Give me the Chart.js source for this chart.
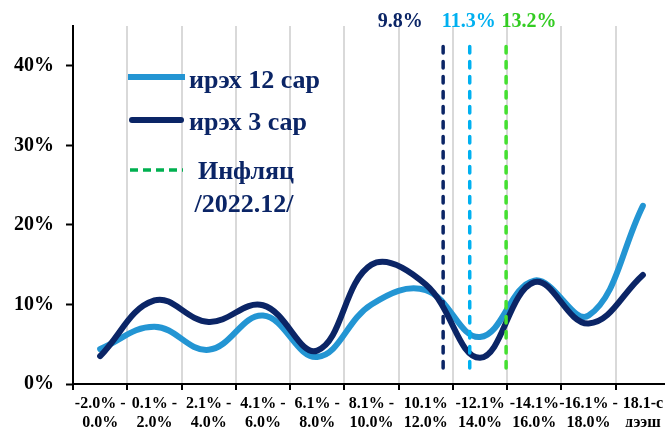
<!DOCTYPE html>
<html>
<head>
<meta charset="utf-8">
<script src="https://cdn.jsdelivr.net/npm/chart.js@4/dist/chart.umd.min.js"></script>
<style>
html,body{margin:0;padding:0;background:#fff;overflow:hidden;}
#wrap{position:relative;width:672px;height:427px;}
</style>
</head>
<body>
<div id="wrap"><canvas id="c"></canvas></div>
<script>
// ---- data ----
const categories = [
  ['-2.0% -','0.0%'], ['0.1% -','2.0%'], ['2.1% -','4.0%'], ['4.1% -','6.0%'],
  ['6.1% -','8.0%'], ['8.1% -','10.0%'], ['10.1%','12.0%'], ['-12.1%','14.0%'],
  ['-14.1%','16.0%'], ['-16.1% -','18.0%'], ['18.1-с','дээш']
];
const next12 = [4.4, 7.2, 4.3, 8.6, 3.4, 10.0, 11.8, 5.9, 13.0, 8.6, 22.4];
const next3  = [3.5, 10.5, 7.8, 9.9, 4.2, 15.0, 12.5, 3.3, 12.8, 7.6, 13.7];
const yTicks = [0, 10, 20, 30, 40];
const inflationLabels = ['9.8%', '11.3%', '13.2%'];
const inflationPos = [6.32, 6.81, 7.48];   // position along category axis (index units)
const inflationSpan = [2.0, 43.0];         // vertical extent (%)
const legendNames = ['ирэх 12 сар', 'ирэх 3 сар', 'Инфляц', '/2022.12/'];

const NAVY = '#0B2566';
const BLUE = '#2395D3';
const vColors = ['#0B2566', '#00B0F0', '#44E030'];
const vLabelColors = ['#0B2566', '#00B0F0', '#33CC22'];
const FONT = "'Liberation Serif', 'Times New Roman', serif";

const vDatasets = inflationPos.map((p, i) => ({
  type: 'line',
  xAxisID: 'x2',
  data: [{x: p, y: inflationSpan[0]}, {x: p, y: inflationSpan[1]}],
  borderColor: vColors[i],
  borderWidth: 3.5,
  borderDash: [6.5, 8.5],
  borderCapStyle: 'round',
  pointRadius: 0,
  tension: 0,
  order: 0
}));

const overlay = {
  id: 'overlay',
  afterDatasetsDraw(chart) {
    const ctx = chart.ctx;
    const x2 = chart.scales.x2;
    const ca = chart.chartArea;
    ctx.save();
    // top labels
    ctx.font = 'bold 20px ' + FONT;
    ctx.textAlign = 'center';
    ctx.textBaseline = 'middle';
    const dx = [-43, -1, 23];
    inflationLabels.forEach((t, i) => {
      ctx.fillStyle = vLabelColors[i];
      ctx.fillText(t, x2.getPixelForValue(inflationPos[i]) + dx[i], 22);
    });
    // legend
    const lx = ca.left;
    ctx.lineCap = 'butt';
    ctx.strokeStyle = BLUE; ctx.lineWidth = 6;
    ctx.beginPath(); ctx.moveTo(lx + 55, 77); ctx.lineTo(lx + 112, 77); ctx.stroke();
    ctx.lineCap = 'round';
    ctx.strokeStyle = NAVY; ctx.lineWidth = 6;
    ctx.beginPath(); ctx.moveTo(lx + 59, 120); ctx.lineTo(lx + 108, 120); ctx.stroke();
    ctx.lineCap = 'butt';
    ctx.strokeStyle = '#00B050'; ctx.lineWidth = 3.5; ctx.setLineDash([8, 5]);
    ctx.beginPath(); ctx.moveTo(lx + 57, 170); ctx.lineTo(lx + 110, 170); ctx.stroke();
    ctx.setLineDash([]);
    ctx.fillStyle = NAVY;
    ctx.font = 'bold 26px ' + FONT;
    ctx.textAlign = 'left';
    ctx.fillText(legendNames[0], lx + 116, 81);
    ctx.fillText(legendNames[1], lx + 116, 123);
    ctx.textAlign = 'center';
    ctx.fillText(legendNames[2], lx + 173, 172);
    ctx.fillText(legendNames[3], lx + 171, 205);
    ctx.restore();
  }
};

new Chart(document.getElementById('c'), {
  data: {
    labels: categories,
    datasets: [
      ...vDatasets,
      {
        type: 'line', label: legendNames[1], data: next3,
        borderColor: NAVY, borderWidth: 6, pointRadius: 0,
        tension: 0.4, borderCapStyle: 'round', order: 1
      },
      {
        type: 'line', label: legendNames[0], data: next12,
        borderColor: BLUE, borderWidth: 6, pointRadius: 0,
        tension: 0.4, borderCapStyle: 'round', order: 2
      }
    ]
  },
  options: {
    responsive: true,
    maintainAspectRatio: false,
    animation: false,
    layout: { padding: { top: 26, right: 2, left: 0, bottom: 0 } },
    plugins: { legend: { display: false }, tooltip: { enabled: false } },
    scales: {
      x: {
        type: 'category',
        offset: true,
        grid: { offset: true, color: '#D9D9D9', lineWidth: 2, tickColor: '#000', tickLength: 6, tickWidth: 2 },
        border: { display: true, color: '#000', width: 2 },
        ticks: {
          color: '#000', font: { family: FONT, size: 16, weight: 'bold', lineHeight: 1.15 },
          maxRotation: 0, autoSkip: false, padding: 5
        },
        afterFit(s) { s.height = 43; }
      },
      x2: {
        type: 'linear', display: false, min: -0.5, max: 10.5
      },
      y: {
        min: 0, max: 45,
        grid: { drawOnChartArea: false, drawTicks: true, tickLength: 7, tickColor: '#000', tickWidth: 2 },
        border: { display: true, color: '#000', width: 2 },
        ticks: {
          stepSize: 10, color: '#000', padding: 12,
          font: { family: FONT, size: 20, weight: 'bold' },
          callback: v => v + '%'
        },
        afterBuildTicks(s) { s.ticks = yTicks.map(v => ({ value: v })); },
        afterFit(s) { s.width = 73; }
      }
    }
  },
  plugins: [overlay]
});
</script>
</body>
</html>
